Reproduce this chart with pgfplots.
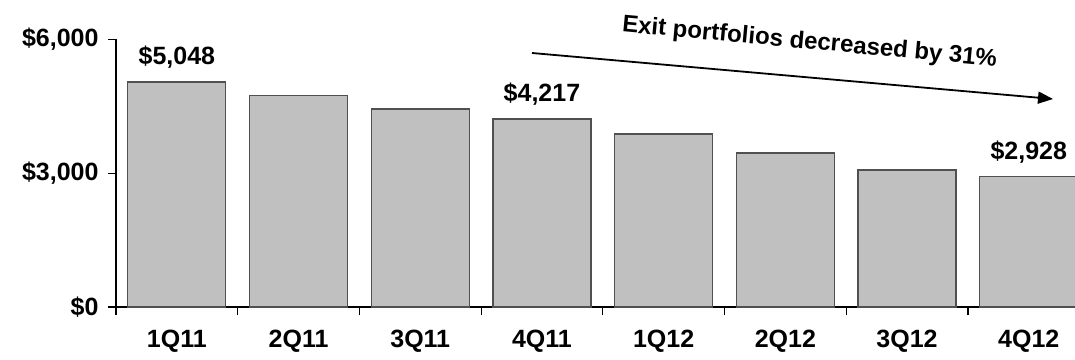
\documentclass[border=0pt]{standalone}
\usepackage{pgfplots}
\pgfplotsset{compat=1.18}
\usepackage{fontspec}
\setmainfont{Liberation Sans}
\usetikzlibrary{arrows.meta}
\definecolor{barfill}{HTML}{C0C0C0}
\definecolor{barline}{HTML}{505050}
\begin{document}
\begin{tikzpicture}[x=1pt,y=1pt]
\begin{axis}[
  at={(116pt,52pt)}, anchor=south west,
  scale only axis,
  width=959pt, height=267.5pt,
  xmin=-0.5, xmax=7.38,
  ymin=0, ymax=6000,
  axis x line*=bottom, axis y line*=left,
  axis line style={line width=1.4pt, black},
  tick align=outside,
  major tick length=8pt,
  tick style={line width=1.2pt, black},
  xtick={-0.5,0.5,1.5,2.5,3.5,4.5,5.5,6.5},
  xticklabels={1Q11,2Q11,3Q11,4Q11,1Q12,2Q12,3Q12,4Q12},
  xticklabel style={xshift=60.85pt, anchor=base, yshift=-32pt},
  ytick={0,3000,6000},
  yticklabels={{\$0},{\$3,000},{\$6,000}},
  yticklabel style={xshift=-6pt},
  tick label style={font=\fontsize{25}{30}\selectfont\bfseries},
  clip mode=individual,
]
\addplot[ybar, bar width=0.805, fill=barfill, draw=barline, line width=1.2pt]
  coordinates {(0,5048) (1,4740) (2,4441) (3,4217) (4,3881) (5,3454) (6,3073) (7,2928)};
\addplot[only marks, mark=none, point meta=explicit,
  nodes near coords={\$\pgfmathprintnumber[1000 sep={,}, assume math mode=true]{\pgfplotspointmeta}},
  every node near coord/.style={anchor=base, yshift=17pt, font=\fontsize{25}{30}\selectfont\bfseries}]
  coordinates {(0,5048) [5048] (3,4217) [4217] (7,2928) [2928]};
\end{axis}
\draw[line width=1.8pt, -{Triangle[length=15pt,width=12pt]}] (532,306) -- (1053,260);
\node[anchor=base, rotate=-5.3, font=\fontsize{24}{28}\selectfont\bfseries] at (809,310) {Exit portfolios decreased by 31\%};
\pgfresetboundingbox
\useasboundingbox (0,0) rectangle (1075,359);
\end{tikzpicture}
\end{document}
